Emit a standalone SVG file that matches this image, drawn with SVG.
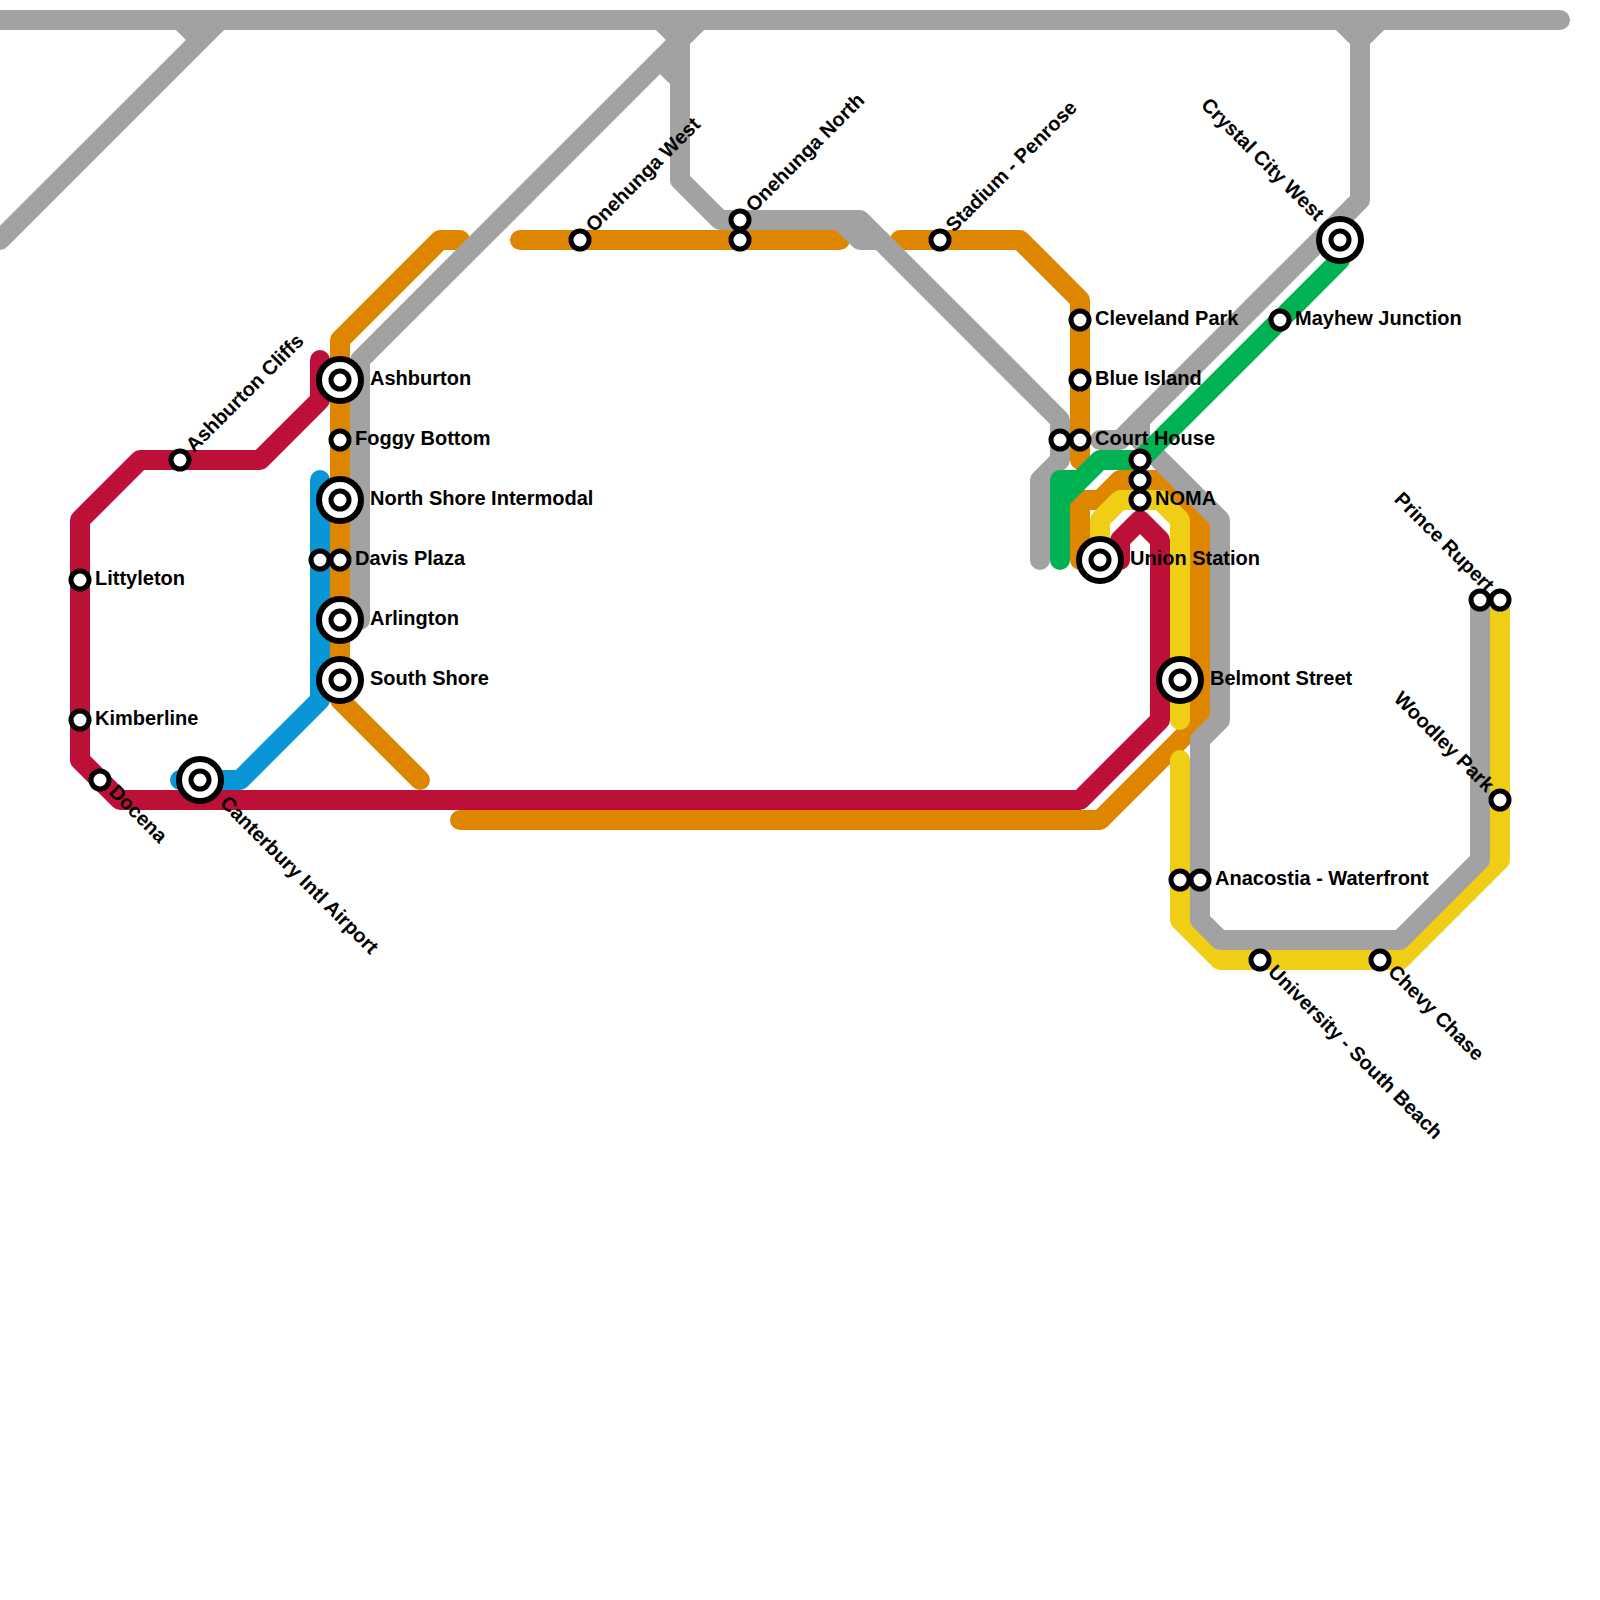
<svg xmlns="http://www.w3.org/2000/svg" width="1600" height="1600" viewBox="0 0 1600 1600">
<style>
.l{fill:none;stroke-width:20;stroke-linecap:round;stroke-linejoin:round}
.gy{stroke:#a2a2a2}.or{stroke:#df8600}.ye{stroke:#f0ce15}.bl{stroke:#0896d7}.cr{stroke:#bd1038}.gr{stroke:#00b251}
.s{fill:#fff;stroke:#000;stroke-width:5}
.o{fill:#fff;stroke:#000;stroke-width:6}
text{font-family:"Liberation Sans",Arial,sans-serif;font-weight:700;font-size:20px;fill:#000}
</style>
<rect width="1600" height="1600" fill="#fff"/>
<g id="connectors">
<path class="l or" d="M460 240H440L340 340V700L420 780"/>
<path class="l or" d="M520 240H840"/>
<path class="l or" d="M900 240H1020L1080 300V460"/>
<path class="l or" d="M1080 560V500H1100L1120 480H1160L1200 520V720L1100 820H460"/>
<path class="l ye" d="M1180 720V520L1160 500H1120L1100 520V560"/>
<path class="l ye" d="M1180 760V920L1220 960H1400L1500 860V600"/>
<path class="l gy" d="M0 20H1560"/>
<path class="l gy" d="M0 240L220 20M180 20L200 40"/>
<path class="l gy" d="M700 20L360 360V620"/>
<path class="l gy" d="M660 20L680 40V180L720 220H860L1060 420V460L1040 480V560"/>
<path class="l gy" d="M660 60L680 80M840 220L860 240H880"/>
<path class="l gy" d="M1340 20L1360 40L1380 20M1360 40V200L1120 440H1100"/>
<path class="l gy" d="M1140 420V440L1220 520V720L1200 740V920L1220 940H1400L1480 860V600"/>
<path class="l bl" d="M320 480V700L240 780H180"/>
<path class="l cr" d="M320 360V400L260 460H140L80 520V760L120 800H1080L1160 720V540L1140 520L1120 540V560"/>
<path class="l gr" d="M1060 560V480H1080L1100 460H1140L1340 260M1060 500L1080 480"/>
</g>
<g id="st-ashburton"><circle class="o" cx="340" cy="380" r="21"/><circle class="s" cx="340" cy="380" r="9"/><text x="370" y="385">Ashburton</text></g>
<g id="st-foggy-bottom"><circle class="s" cx="340" cy="440" r="9"/><text x="355" y="445">Foggy Bottom</text></g>
<g id="st-north-shore"><circle class="o" cx="340" cy="500" r="21"/><circle class="s" cx="340" cy="500" r="9"/><text x="370" y="505">North Shore Intermodal</text></g>
<g id="st-davis-plaza"><circle class="s" cx="320" cy="560" r="9"/><circle class="s" cx="340" cy="560" r="9"/><text x="355" y="565">Davis Plaza</text></g>
<g id="st-arlington"><circle class="o" cx="340" cy="620" r="21"/><circle class="s" cx="340" cy="620" r="9"/><text x="370" y="625">Arlington</text></g>
<g id="st-south-shore"><circle class="o" cx="340" cy="680" r="21"/><circle class="s" cx="340" cy="680" r="9"/><text x="370" y="685">South Shore</text></g>
<g id="st-littleton"><circle class="s" cx="80" cy="580" r="9"/><text x="95" y="585">Littyleton</text></g>
<g id="st-kimberline"><circle class="s" cx="80" cy="720" r="9"/><text x="95" y="725">Kimberline</text></g>
<g id="st-docena"><circle class="s" cx="100" cy="780" r="9"/><text transform="translate(108 793) rotate(45)">Docena</text></g>
<g id="st-canterbury"><circle class="o" cx="200" cy="780" r="21"/><circle class="s" cx="200" cy="780" r="9"/><text transform="translate(219 804) rotate(45)">Canterbury Intl Airport</text></g>
<g id="st-ashburton-cliffs"><circle class="s" cx="180" cy="460" r="9"/><text transform="translate(194 453) rotate(-45)">Ashburton Cliffs</text></g>
<g id="st-onehunga-west"><circle class="s" cx="580" cy="240" r="9"/><text transform="translate(594 233) rotate(-45)">Onehunga West</text></g>
<g id="st-onehunga-north"><circle class="s" cx="740" cy="220" r="9"/><circle class="s" cx="740" cy="240" r="9"/><text transform="translate(754 213) rotate(-45)">Onehunga North</text></g>
<g id="st-stadium"><circle class="s" cx="940" cy="240" r="9"/><text transform="translate(954 233) rotate(-45)">Stadium - Penrose</text></g>
<g id="st-cleveland-park"><circle class="s" cx="1080" cy="320" r="9"/><text x="1095" y="325">Cleveland Park</text></g>
<g id="st-blue-island"><circle class="s" cx="1080" cy="380" r="9"/><text x="1095" y="385">Blue Island</text></g>
<g id="st-court-house"><circle class="s" cx="1060" cy="440" r="9"/><circle class="s" cx="1080" cy="440" r="9"/><text x="1095" y="445">Court House</text></g>
<g id="st-noma"><circle class="s" cx="1140" cy="460" r="9"/><circle class="s" cx="1140" cy="480" r="9"/><circle class="s" cx="1140" cy="500" r="9"/><text x="1155" y="505">NOMA</text></g>
<g id="st-union"><circle class="o" cx="1100" cy="560" r="21"/><circle class="s" cx="1100" cy="560" r="9"/><text x="1130" y="565">Union Station</text></g>
<g id="st-belmont"><circle class="o" cx="1180" cy="680" r="21"/><circle class="s" cx="1180" cy="680" r="9"/><text x="1210" y="685">Belmont Street</text></g>
<g id="st-anacostia"><circle class="s" cx="1180" cy="880" r="9"/><circle class="s" cx="1200" cy="880" r="9"/><text x="1215" y="885">Anacostia - Waterfront</text></g>
<g id="st-university"><circle class="s" cx="1260" cy="960" r="9"/><text transform="translate(1267 973) rotate(45)">University - South Beach</text></g>
<g id="st-chevy-chase"><circle class="s" cx="1380" cy="960" r="9"/><text transform="translate(1387 973) rotate(45)">Chevy Chase</text></g>
<g id="st-crystal-city"><circle class="o" cx="1340" cy="240" r="21"/><circle class="s" cx="1340" cy="240" r="9"/><text text-anchor="end" transform="translate(1316 222) rotate(45)">Crystal City West</text></g>
<g id="st-mayhew"><circle class="s" cx="1280" cy="320" r="9"/><text x="1295" y="325">Mayhew Junction</text></g>
<g id="st-prince-rupert"><circle class="s" cx="1480" cy="600" r="9"/><circle class="s" cx="1500" cy="600" r="9"/><text text-anchor="end" transform="translate(1486 593) rotate(45)">Prince Rupert</text></g>
<g id="st-woodley-park"><circle class="s" cx="1500" cy="800" r="9"/><text text-anchor="end" transform="translate(1486 793) rotate(45)">Woodley Park</text></g>
</svg>
